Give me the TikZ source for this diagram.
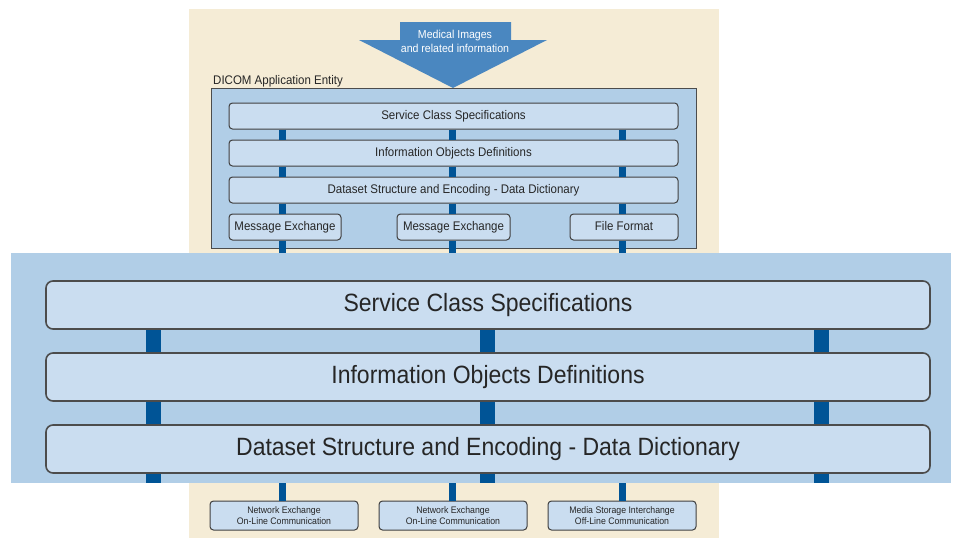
\documentclass[tikz,border=0pt]{standalone}
\usepackage{fontspec}
\setmainfont{Liberation Sans}[FakeStretch=0.92]
\usepackage{tikz}
\usetikzlibrary{positioning}
\definecolor{paper}{RGB}{245,236,214}
\definecolor{panelblue}{RGB}{177,206,231}
\definecolor{layerblue}{RGB}{202,221,240}
\definecolor{barblue}{RGB}{0,84,150}
\definecolor{arrowblue}{RGB}{74,135,192}
\tikzstyle{panel} = [fill=panelblue,inner sep=0pt,outer sep=0pt]
\tikzstyle{biglayer} = [draw=black!70,line width=1.6pt,fill=layerblue,rounded corners=7pt,minimum width=884pt,minimum height=48pt,inner sep=0pt,outer sep=0pt,text=black!85,text height=18pt,text depth=5pt,font=\fontsize{25}{30}\selectfont]
\tikzstyle{smalllayer} = [draw=black!75,line width=1pt,fill=layerblue,rounded corners=3.5pt,minimum height=26pt,inner sep=0pt,outer sep=0pt,text=black!85,text height=9pt,text depth=2.6pt,font=\fontsize{12.5}{14}\selectfont]
\tikzstyle{netbox} = [smalllayer,minimum width=148pt,minimum height=29pt,align=center,text height=,text depth=,font=\fontsize{9.5}{11}\selectfont]
\tikzstyle{bigbar} = [draw=barblue,line width=15pt,shorten <=0.8pt,shorten >=0.8pt]
\tikzstyle{smallbar} = [draw=barblue,line width=7pt,shorten <=0.5pt,shorten >=0.5pt]

\begin{document}
\begin{tikzpicture}[x=1pt,y=-1pt,node distance=11pt]
    \useasboundingbox (0,0) rectangle (953,538);
    \fill[paper] (189,9) rectangle (719,538);

    % the application entity, small
    \node[panel,draw=black!70,line width=1pt,minimum width=485pt,minimum height=160pt,anchor=north west] (entity) at (211,88) {};
    \node[anchor=base west,inner sep=0pt,text=black!85,font=\fontsize{12.5}{14}\selectfont] (entitylbl) at (213,84) {DICOM Application Entity};
    \node[smalllayer,minimum width=449pt] (ss1) at (453.5,116) {Service Class Specifications};
    \node[smalllayer,minimum width=449pt,below=of ss1] (ss2) {Information Objects Definitions};
    \node[smalllayer,minimum width=449pt,below=of ss2] (ss3) {Dataset Structure and Encoding - Data Dictionary};
    \node[smalllayer,minimum width=113pt,below=of ss3] (me2) {Message Exchange};
    \node[smalllayer,minimum width=112pt,left=56pt of me2] (me1) {Message Exchange};
    \node[smalllayer,minimum width=108pt,right=60pt of me2] (ff) {File Format};

    \fill[arrowblue] (400,22) -- (511,22) -- (511,40) -- (547,40) -- (453,88) -- (359,40) -- (400,40) -- cycle;
    \node[align=center,text=white,font=\fontsize{11.5}{14}\selectfont] (medimg) at (455,41) {Medical Images\\and related information};

    % the enlarged layers
    \node[panel,minimum width=940pt,minimum height=230pt,anchor=north west] (big) at (11,253) {};
    \node[biglayer] (bs1) at (488,305) {Service Class Specifications};
    \node[biglayer,below=24pt of bs1] (bs2) {Information Objects Definitions};
    \node[biglayer,below=24pt of bs2] (bs3) {Dataset Structure and Encoding - Data Dictionary};

    \node[netbox] (nb2) at (453,515.5) {Network Exchange\\On-Line Communication};
    \node[netbox,left=21pt of nb2] (nb1) {Network Exchange\\On-Line Communication};
    \node[netbox,right=21pt of nb2] (nb3) {Media Storage Interchange\\Off-Line Communication};

    \coordinate (sx1) at (282,0);
    \coordinate (sx2) at (452,0);
    \coordinate (sx3) at (622,0);
    \foreach \m/\s in {me1/sx1,me2/sx2,ff/sx3} {
        \path[smallbar] (ss1.south -| \s) -- (ss2.north -| \s);
        \path[smallbar] (ss2.south -| \s) -- (ss3.north -| \s);
        \path[smallbar] (ss3.south -| \s) -- (\m.north -| \s);
        \path[smallbar,shorten >=0pt] (\m.south -| \s) -- (\s |- big.north);
    }
    \coordinate (bx1) at (153,0);
    \coordinate (bx2) at (487,0);
    \coordinate (bx3) at (821,0);
    \foreach \c in {bx1,bx2,bx3} {
        \path[bigbar] (bs1.south -| \c) -- (bs2.north -| \c);
        \path[bigbar] (bs2.south -| \c) -- (bs3.north -| \c);
        \path[bigbar,shorten >=0pt] (bs3.south -| \c) -- (\c |- big.south);
    }
    \foreach \n/\s in {nb1/sx1,nb2/sx2,nb3/sx3}
        \path[smallbar,shorten <=0pt] (\s |- big.south) -- (\n.north -| \s);
\end{tikzpicture}
\end{document}
